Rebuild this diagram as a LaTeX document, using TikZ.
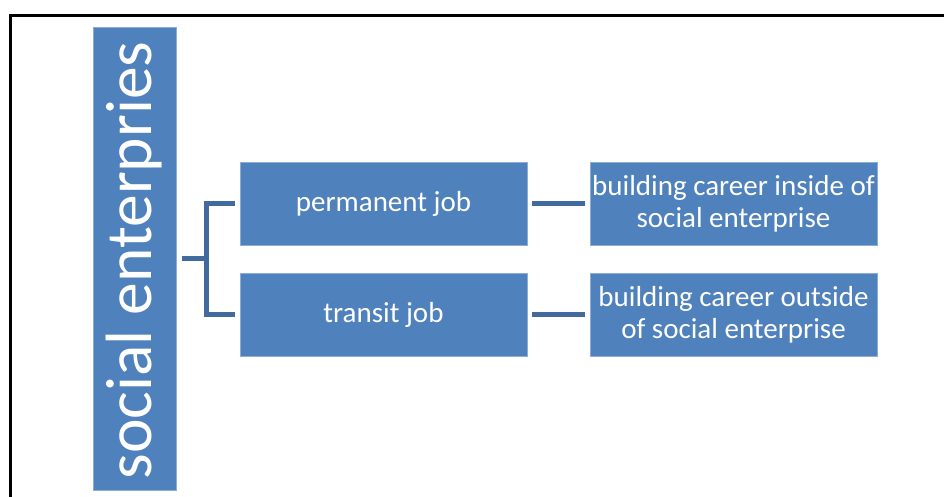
\documentclass[tikz,border=0pt]{standalone}
\usepackage{fontspec}
\setmainfont{Carlito}
\definecolor{boxblue}{HTML}{4F81BD}
\definecolor{boxedge}{HTML}{8DACD6}
\definecolor{connblue}{HTML}{416B9F}
\tikzset{
  bluebox/.style={rectangle, fill=boxblue, draw=boxedge, line width=0.8pt,
    text=white, align=center, inner sep=0pt, font=\fontsize{29}{32}\selectfont},
  conn/.style={draw=connblue, line width=5pt}
}
\begin{document}
\begin{tikzpicture}[x=1pt,y=-1pt]
\useasboundingbox (0,0) rectangle (944,497);
\draw[line width=3.5pt, black] (944,15.5) coordinate (ftr) -- (10.5,15.5) -- (10.5,497);
\node[bluebox, minimum width=83pt, minimum height=463pt] (se) at (134.5,258.5) {};
\node[text=white, inner sep=0pt, rotate=90, font=\fontsize{65.5}{70}\selectfont] (setext) at (134.5,260.5) {social enterpries};
\node[bluebox, minimum width=287pt, minimum height=83pt] (pj) at (383.5,203.5) {permanent job};
\node[bluebox, minimum width=287pt, minimum height=83pt] (tj) at (383.5,314.5) {transit job};
\node[bluebox, minimum width=287pt, minimum height=83pt] (bi) at (733.5,203.5) {building career inside of\\social enterprise};
\node[bluebox, minimum width=287pt, minimum height=83pt] (bo) at (733.5,314.5) {building career outside\\of social enterprise};
\draw[conn] ([xshift=6pt]se.east) -- ++(24,0) coordinate (fork);
\draw[conn] ([xshift=-5pt]pj.west) -| (fork) |- ([xshift=-5pt]tj.west);
\draw[conn] ([xshift=5pt]pj.east) -- ([xshift=-5pt]bi.west);
\draw[conn] ([xshift=5pt]tj.east) -- ([xshift=-5pt]bo.west);
\end{tikzpicture}
\end{document}
